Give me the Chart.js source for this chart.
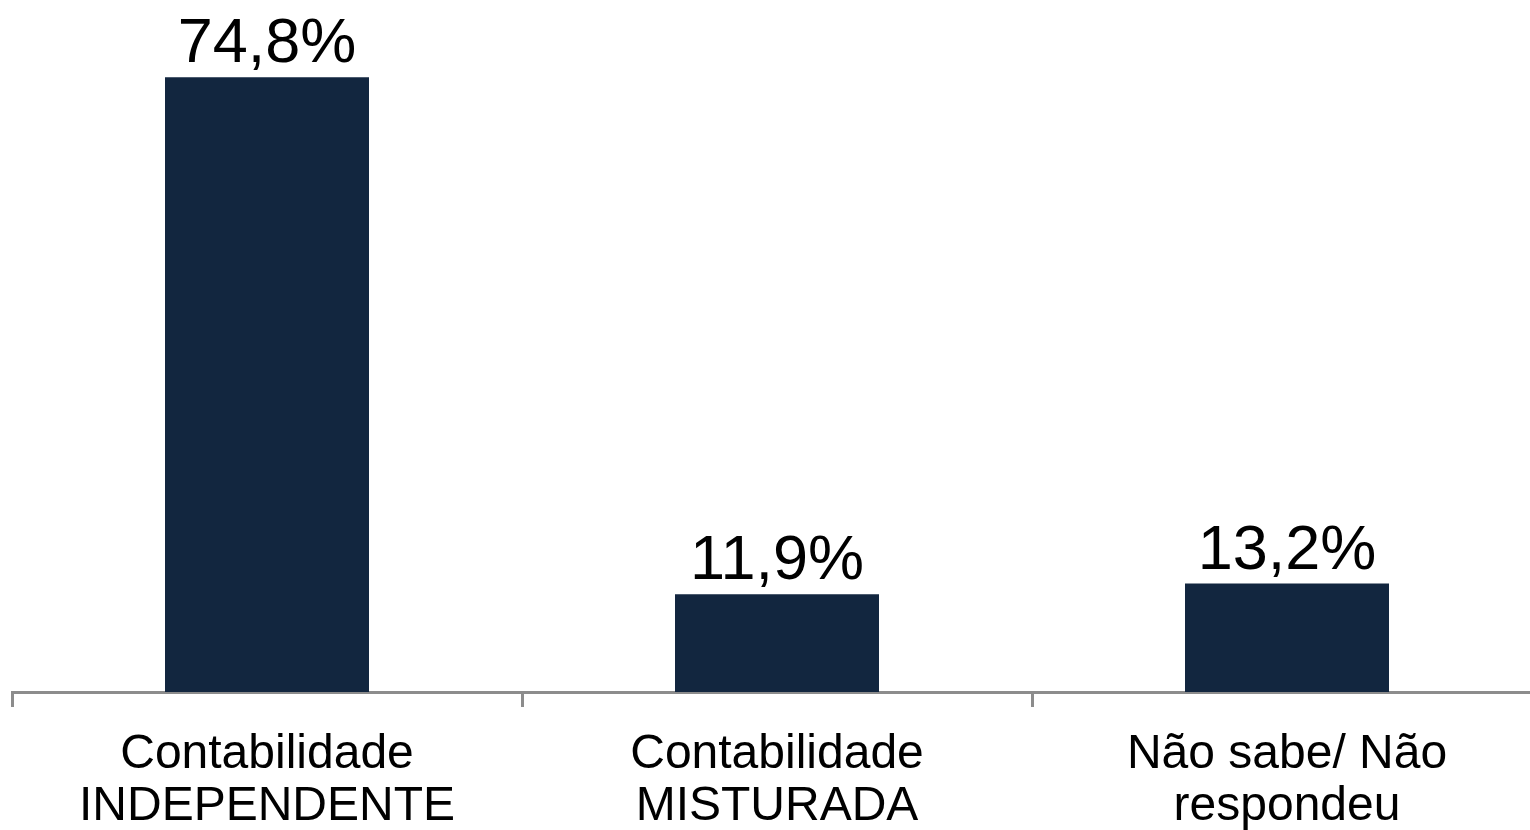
<!DOCTYPE html>
<html>
<head>
<meta charset="utf-8">
<script src="https://cdn.jsdelivr.net/npm/chart.js@4/dist/chart.umd.min.js"></script>
<style>
  html, body { margin: 0; padding: 0; background: #fff; overflow: hidden; }
  canvas { display: block; }
</style>
</head>
<body>
<canvas id="chart" width="1542" height="830"></canvas>
<script>
const categories = [
    ['Contabilidade', 'INDEPENDENTE'],
    ['Contabilidade', 'MISTURADA'],
    ['Não sabe/ Não', 'respondeu'],
];
const values = [74.8, 11.9, 13.2];
const valueLabels = ['74,8%', '11,9%', '13,2%'];

const FONT = '"Liberation Sans", Arial, sans-serif';

// draws the percentage above each bar
const valueLabelPlugin = {
    id: 'valueLabels',
    afterDatasetsDraw(chart) {
        const ctx = chart.ctx;
        const meta = chart.getDatasetMeta(0);
        ctx.save();
        ctx.font = '63px ' + FONT;
        ctx.fillStyle = '#000';
        ctx.textAlign = 'center';
        ctx.textBaseline = 'alphabetic';
        meta.data.forEach((bar, i) => {
            ctx.fillText(valueLabels[i], bar.x, bar.y - 15);
        });
        ctx.restore();
    }
};

const ctx = document.getElementById('chart').getContext('2d');
new Chart(ctx, {
    type: 'bar',
    data: {
        labels: categories,
        datasets: [{
            data: values,
            backgroundColor: '#12263f',
            borderWidth: 0,
            categoryPercentage: 1,
            barPercentage: 0.4,
        }]
    },
    options: {
        responsive: false,
        animation: false,
        layout: {
            padding: { left: 12, right: 0, top: 0, bottom: 0 },
        },
        plugins: {
            legend: { display: false },
            tooltip: { enabled: false },
        },
        scales: {
            x: {
                afterFit: (scale) => { scale.height = 138; },
                grid: {
                    drawOnChartArea: false,
                    drawTicks: true,
                    tickLength: 15,
                    lineWidth: 3,
                    color: '#8c8c8c',
                    offset: true,
                },
                border: {
                    color: '#8c8c8c',
                    width: 3,
                },
                ticks: {
                    color: '#000',
                    font: { family: FONT, size: 48, lineHeight: 1.1 },
                    padding: 21,
                    maxRotation: 0,
                    autoSkip: false,
                },
            },
            y: {
                display: false,
                min: 0,
                max: 84.2,
            },
        },
    },
    plugins: [valueLabelPlugin],
});
</script>
</body>
</html>
